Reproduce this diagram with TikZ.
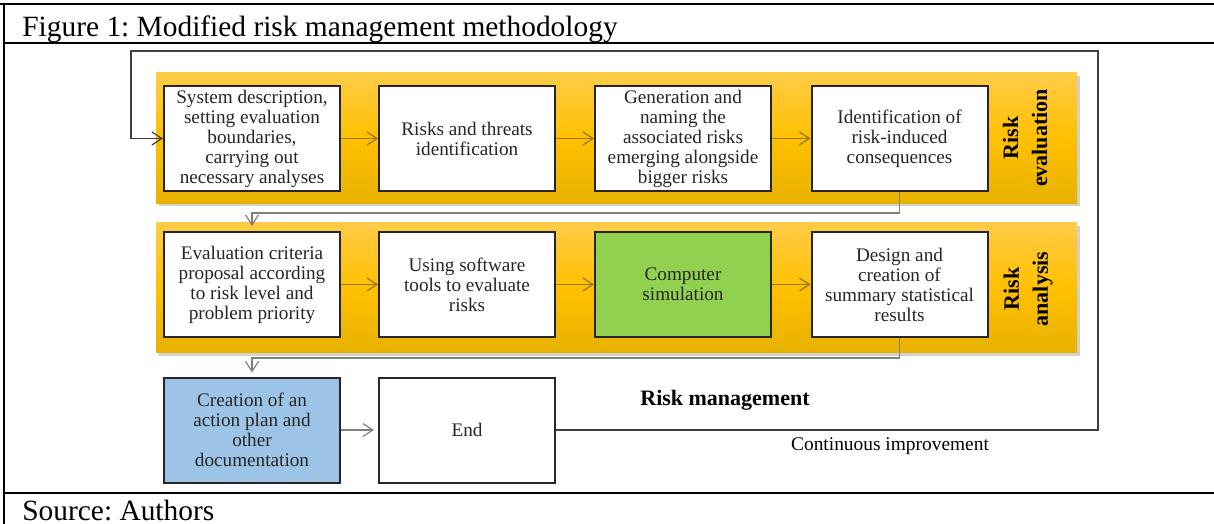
\documentclass[tikz,border=0pt]{standalone}
\usepackage{fontspec}
\setmainfont{Liberation Serif}
\usetikzlibrary{arrows.meta,shadows,calc}
\definecolor{gold}{RGB}{255,192,0}
\definecolor{goldtop}{RGB}{255,204,72}
\definecolor{goldbot}{RGB}{232,178,0}
\definecolor{arrowc}{RGB}{150,118,20}
\definecolor{simgreen}{RGB}{146,208,80}
\definecolor{planblue}{RGB}{157,195,230}
\frenchspacing
\tikzset{
  box/.style={draw=black!85, line width=1pt, fill=white, minimum width=88pt,
    minimum height=52.5pt, inner sep=0pt, align=center, text=black!85,
    font=\fontsize{9.6}{10}\selectfont},
  band/.style={draw=none, top color=goldtop, bottom color=goldbot, middle color=gold,
    minimum width=460.5pt, minimum height=65pt, inner sep=0pt,
    drop shadow={shadow xshift=1.5pt, shadow yshift=-1.5pt, opacity=0.3, fill=black!60}},
  bandlabel/.style={rotate=90, align=center, inner sep=0pt,
    font=\bfseries\fontsize{11}{14.5}\selectfont},
  tip/.style={-{Straight Barb[length=5pt,width=6.5pt,line width=0.6pt]}},
  flow/.style={draw=arrowc, line width=0.65pt, tip},
  gconn/.style={draw=black!50, line width=0.55pt, tip},
  loopline/.style={draw=black!75, line width=0.75pt, tip},
  rule/.style={line width=1.2pt, draw=black}
}
\begin{document}
\begin{tikzpicture}[x=0.5pt,y=-0.5pt]
\useasboundingbox (0,0) rectangle (1214,524);
% table frame
\draw[rule] (0,4) -- (1214,4);
\draw[rule] (4,43) -- (1214,43);
\draw[rule] (4,493) -- (1214,493);
\draw[rule] (4,4) -- (4,524);
\node[anchor=base west, inner sep=0pt, font=\fontsize{14.7}{16}\selectfont] (title) at (22,37) {Figure 1: Modified risk management methodology};
\node[anchor=base west, inner sep=0pt, font=\fontsize{14.7}{16}\selectfont] (source) at (22,520) {Source: Authors};

% bands
\node[band] (band1) at (616.5,138) {};
\node[band] (band2) at (616.5,287.5) {};
\node[bandlabel] (lab1) at (1025,138) {Risk\\evaluation};
\node[bandlabel] (lab2) at (1028,289) {Risk\\analysis};

% row 1
\node[box] (b1) at (252,138.5) {System description,\\setting evaluation\\boundaries,\\carrying out\\necessary analyses};
\node[box] (b2) at (467,138.5) {Risks and threats\\identification};
\node[box] (b3) at (683,138.5) {Generation and\\naming the\\associated risks\\emerging alongside\\bigger risks};
\node[box] (b4) at (899.5,138.5) {Identification of\\risk-induced\\consequences};
% row 2
\node[box] (b5) at (252,284.5) {Evaluation criteria\\proposal according\\to risk level and\\problem priority};
\node[box] (b6) at (467,284.5) {Using software\\tools to evaluate\\risks};
\node[box, fill=simgreen] (b7) at (683,284.5) {Computer\\simulation};
\node[box] (b8) at (899.5,284.5) {Design and\\creation of\\summary statistical\\results};
% row 3
\node[box, fill=planblue] (b9) at (252,430) {Creation of an\\action plan and\\other\\documentation};
\node[box] (b10) at (467,430) {End};

\node[inner sep=0pt, font=\bfseries\fontsize{11}{13}\selectfont] (rm) at (725,400) {Risk management};
\node[inner sep=0pt, font=\fontsize{9.7}{11}\selectfont] (ci) at (890,446) {Continuous improvement};

% flows
\draw[flow] (b1) -- (b2);
\draw[flow] (b2) -- (b3);
\draw[flow] (b3) -- (b4);
\draw[flow] (b5) -- (b6);
\draw[flow] (b6) -- (b7);
\draw[flow] (b7) -- (b8);
\draw[gconn, shorten >=2pt] (b9) -- (b10);
\draw[gconn, shorten >=2.5pt] (b4.south) -- ++(0,21) -| (b5.north);
\draw[gconn, shorten >=2pt] (b8.south) -- ++(0,20) -| (b9.north);

% continuous improvement loop
\coordinate (lr) at (1098,430);
\coordinate (ur) at (1098,51);
\coordinate (ul) at (131,51);
\draw[loopline] (b10.east) -- (lr) -- (ur) -- (ul) |- (b1.west);
\end{tikzpicture}
\end{document}
